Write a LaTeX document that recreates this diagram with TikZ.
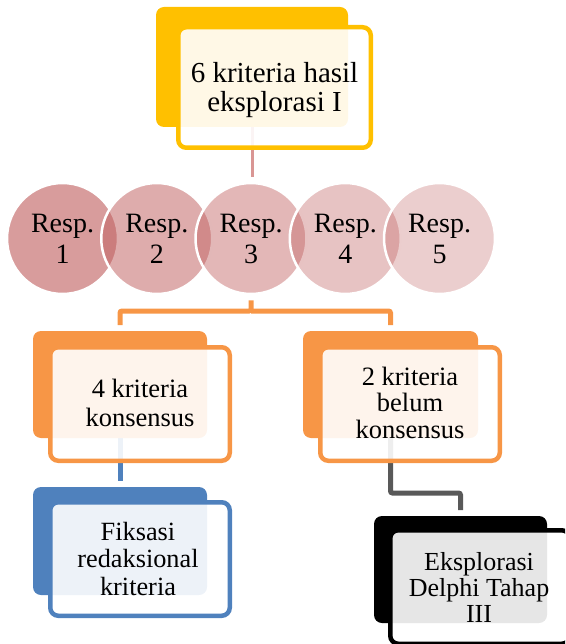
\documentclass[tikz,border=0pt]{standalone}
\usepackage{fontspec}
\setmainfont{Liberation Serif}
\definecolor{gold}{HTML}{FFC000}
\definecolor{orng}{HTML}{F79646}
\definecolor{blu}{HTML}{4F81BD}
\definecolor{pinkc}{HTML}{D99694}
\definecolor{respc}{RGB}{192,96,96}
\definecolor{darkg}{RGB}{89,89,89}
\tikzset{
 backbox/.style={rounded corners=8pt, fill=#1, inner sep=0pt, outer sep=0pt},
 frontbox/.style={rounded corners=8pt, draw=#1, line width=4.5pt, fill=white, fill opacity=0.9, inner sep=0pt, outer sep=0pt},
 link/.style={line width=5pt, draw=#1, rounded corners=2pt},
 resp/.style={circle, minimum size=111pt, inner sep=0pt, fill=respc, draw=white, line width=2.5pt, text opacity=1, font=\fontsize{28}{31}\selectfont, align=center},
 lbl/.style={align=center, font=\fontsize{26.5}{27}\selectfont, inner sep=0pt}
}
\begin{document}
\begin{tikzpicture}[x=1pt,y=-1pt]
\useasboundingbox (0,0) rectangle (565,644);
\clip (0,0) rectangle (565,644);
% coordinates / invisible anchors
\coordinate (bar) at (251,311);
\coordinate (gturn) at (390.5,493);
% back boxes (positions only, drawn later)
\path node[minimum width=192pt, minimum height=120pt, inner sep=0pt, outer sep=0pt] (topback) at (252,67) {};
\path node[minimum width=174pt, minimum height=107pt, inner sep=0pt, outer sep=0pt] (lback) at (120,384.5) {};
\path node[minimum width=175pt, minimum height=107pt, inner sep=0pt, outer sep=0pt] (rback) at (390.5,384.5) {};
\path node[minimum width=174pt, minimum height=108pt, inner sep=0pt, outer sep=0pt] (bback) at (120,541) {};
\path node[minimum width=173pt, minimum height=107pt, inner sep=0pt, outer sep=0pt] (kback) at (460.5,569.5) {};
% circles
\node[resp, fill opacity=0.62] (r1) at (62.5,238.5) {Resp.\\1};
\node[resp, fill opacity=0.52] (r2) at (156.75,238.5) {Resp.\\2};
\node[resp, fill opacity=0.45] (r3) at (251,238.5) {Resp.\\3};
\node[resp, fill opacity=0.38] (r4) at (345.25,238.5) {Resp.\\4};
\node[resp, fill opacity=0.31] (r5) at (439.5,238.5) {Resp.\\5};
% connectors
\draw[line width=3pt, draw=pinkc, shorten >=5pt] (topback.south) -- (topback.south |- r3.north);
\draw[link=orng, shorten <=5pt, shorten >=6pt] (r3.south) -- (bar) -| (lback.north);
\draw[link=orng, shorten >=6pt] (bar) -| (rback.north);
\draw[link=blu, shorten >=6pt] (lback.south) -- (bback.north);
\draw[link=darkg, shorten >=6pt] (rback.south) -- (gturn) -| (kback.north);
% back boxes
\path[backbox=gold] (topback.north west) rectangle (topback.south east);
\path[backbox=orng] (lback.north west) rectangle (lback.south east);
\path[backbox=orng] (rback.north west) rectangle (rback.south east);
\path[backbox=blu] (bback.north west) rectangle (bback.south east);
\path[backbox=black] (kback.north west) rectangle (kback.south east);
% front boxes
\node[frontbox=gold, minimum width=192.5pt, minimum height=120.5pt] (topfront) at (274.5,87.5) {};
\node[frontbox=orng, minimum width=179.5pt, minimum height=113.5pt] (lfront) at (140,404) {};
\node[frontbox=orng, minimum width=179.5pt, minimum height=113.5pt] (rfront) at (410,404) {};
\node[frontbox=blu, minimum width=179.5pt, minimum height=113.5pt] (bfront) at (140,559) {};
\node[frontbox=black, minimum width=179.5pt, minimum height=113.5pt] (kfront) at (480,587) {};
% texts
\node[lbl, font=\fontsize{29}{28.5}\selectfont] (ttop) at (274.5,90) {6 kriteria hasil\\eksplorasi I};
\node[lbl, font=\fontsize{26.5}{29}\selectfont] (tl) at (140,402.5) {4 kriteria\\konsensus};
\node[lbl, font=\fontsize{26.5}{26.5}\selectfont] (tr) at (410,402.5) {2 kriteria\\belum\\konsensus};
\node[lbl, font=\fontsize{26.3}{27.5}\selectfont] (tb) at (138,558.5) {Fiksasi\\redaksional\\kriteria};
\node[lbl, font=\fontsize{26}{26}\selectfont] (tk) at (479,587) {Eksplorasi\\Delphi Tahap\\III};
\end{tikzpicture}
\end{document}
